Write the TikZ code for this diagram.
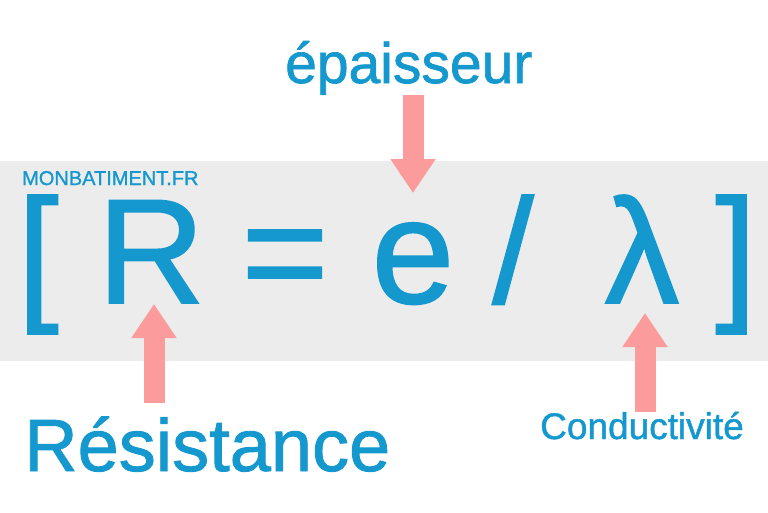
\documentclass[tikz,border=0pt]{standalone}
\usepackage{fontspec}
\setmainfont{Liberation Sans}
\newfontfamily\grasfont[FakeBold=1.2]{Liberation Sans}
\usetikzlibrary{arrows.meta}
\definecolor{bleu}{RGB}{20,152,206}
\definecolor{gris}{RGB}{236,236,236}
\definecolor{rose}{RGB}{252,155,155}
\tikzset{
  signe/.style={anchor=base, inner sep=0pt, text=bleu, text height=108pt, text depth=30pt,
    font=\grasfont\fontsize{149}{149}\selectfont},
  etiquette/.style={anchor=base west, inner sep=0pt, text=bleu},
  fleche/.style={draw=rose, line width=21pt, -{Triangle[width=43pt,length=34pt]}}
}
\begin{document}
\begin{tikzpicture}[x=1pt, y=-1pt]
        \useasboundingbox (0,0) rectangle (768,512);
        \fill[gris] (0,161) rectangle (768,361);

        \node[etiquette, font=\grasfont\fontsize{20}{20}\selectfont] (site) at (22,185) {MONBATIMENT.FR};

        \node[signe] (ouv) at (38,303) {[};
        \node[signe] (R) at (151,303) {R};
        \node[signe] (egal) at (285,303) {=};
        \node[signe] (e) at (413,303) {e};
        \node[signe] (barre) at (513,303) {/};
        \node[signe] (lambda) at (642,303) {λ};
        \node[signe] (ferm) at (736,303) {]};

        \node[etiquette, font=\grasfont\fontsize{57}{57}\selectfont] (ep) at (285,83) {épaisseur};
        \node[etiquette, font=\grasfont\fontsize{74}{74}\selectfont] (res) at (24,471) {Résistance};
        \node[etiquette, font=\grasfont\fontsize{37}{37}\selectfont] (cond) at (540,439) {Conductivité};

        \coordinate (depE) at (413,95);
        \coordinate (finE) at (413,193);
        \coordinate (depR) at (154,403);
        \coordinate (finR) at (154,304);
        \coordinate (depL) at (645,412);
        \coordinate (finL) at (645,313);

        \draw[fleche] (depE) -- (finE);
        \draw[fleche] (depR) -- (finR);
        \draw[fleche] (depL) -- (finL);
    \end{tikzpicture}
\end{document}
